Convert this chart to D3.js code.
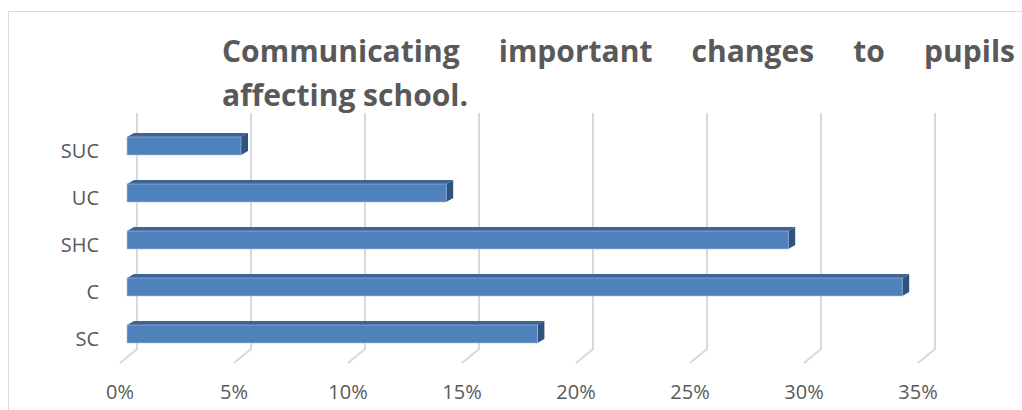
<!DOCTYPE html>
<html><head><meta charset="utf-8">
<script src="https://cdn.jsdelivr.net/npm/d3@7"></script>
<style>
html,body{margin:0;padding:0;background:#fff;}
svg{display:block;}
text{font-family:"Open Sans",sans-serif;}
</style></head>
<body>
<svg id="chart" width="1022" height="410"></svg>
<script>
const categories = ["SUC","UC","SHC","C","SC"];
const values = [5, 14, 29, 34, 18];
const tickValues = [0, 5, 10, 15, 20, 25, 30, 35];
const tickLabels = ["0%","5%","10%","15%","20%","25%","30%","35%"];
const titleLine1 = ["Communicating","important","changes","to","pupils"];
const titleLine2 = "affecting school.";

const svg = d3.select("#chart");
const W = 1022, H = 410;

// chart border
svg.append("rect").attr("x",8.5).attr("y",11.5).attr("width",1030).attr("height",420)
  .attr("fill","none").attr("stroke","#d9d9d9").attr("stroke-width",1);

// scales (back wall)
const x = d3.scaleLinear().domain([0,35]).range([137,935]);
const y = d3.scaleBand().domain(categories).range([122.5,357.5])
  .paddingInner(29/47).paddingOuter(29/94);

const wallTop = 113, wallBottom = 349;
const floorDx = -17, floorDy = 14;
const barShift = -10; // front face offset from wall
const depthDx = 7, depthDy = -4;

// gridlines
const grid = svg.append("g");
tickValues.forEach(t=>{
  const gx = x(t);
  grid.append("path")
    .attr("d",`M${gx},${wallTop} L${gx},${wallBottom} L${gx+floorDx},${wallBottom+floorDy}`)
    .attr("fill","none").attr("stroke","#d9d9d9").attr("stroke-width",2);
});

// tick labels
svg.append("g").selectAll("text").data(tickValues).join("text")
  .attr("x",d=>x(d)+floorDx).attr("y",399)
  .attr("text-anchor","middle").attr("font-size",20).attr("fill","#595959")
  .text((d,i)=>tickLabels[i]);

// category labels
svg.append("g").selectAll("text").data(categories).join("text")
  .attr("x",99).attr("y",d=>y(d)+y.bandwidth()/2+4.5)
  .attr("dy","0.35em")
  .attr("text-anchor","end").attr("font-size",20).attr("fill","#595959")
  .text(d=>d);

// bars
const bars = svg.append("g");
categories.forEach((c,i)=>{
  const x0 = x(0)+barShift, x1 = x(values[i])+barShift;
  const y0 = y(c), h = y.bandwidth();
  // top face
  bars.append("path")
    .attr("d",`M${x0},${y0} L${x0+depthDx},${y0+depthDy} L${x1+depthDx},${y0+depthDy} L${x1},${y0} Z`)
    .attr("fill","#3c6494");
  // side face
  bars.append("path")
    .attr("d",`M${x1},${y0} L${x1+depthDx},${y0+depthDy} L${x1+depthDx},${y0+depthDy+h} L${x1},${y0+h} Z`)
    .attr("fill","#30527e");
  // front face
  bars.append("rect").attr("x",x0).attr("y",y0).attr("width",x1-x0).attr("height",h)
    .attr("fill","#4f81bd").attr("stroke","#a9c1e0").attr("stroke-width",0.6);
});

// title
const tg = svg.append("g").attr("font-weight","bold").attr("font-size",30).attr("fill","#595959");
const left = 222, right = 1015;
const words = titleLine1.map(w=>tg.append("text").attr("y",62).text(w));
const widths = words.map(t=>t.node().getComputedTextLength());
const total = d3.sum(widths);
const gap = (right-left-total)/(titleLine1.length-1);
let cx = left;
words.forEach((t,i)=>{ t.attr("x",cx); cx += widths[i]+gap; });
tg.append("text").attr("x",left).attr("y",106).text(titleLine2);
</script>
</body></html>
